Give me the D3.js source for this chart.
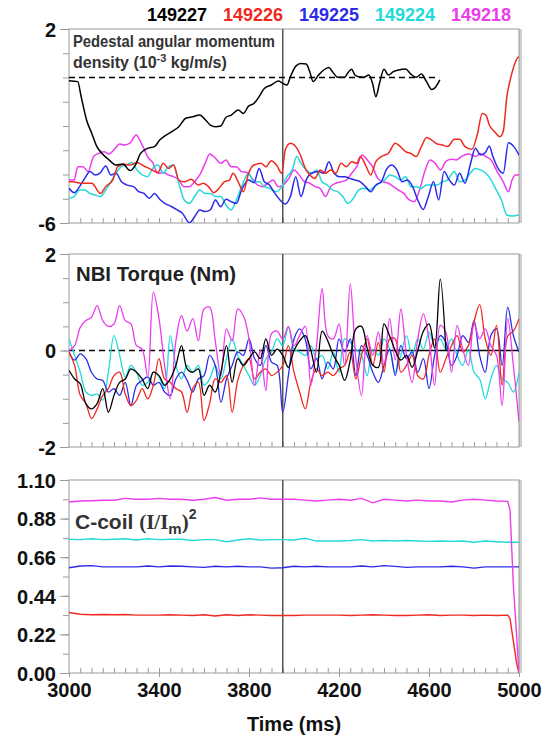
<!DOCTYPE html>
<html><head><meta charset="utf-8">
<script src="https://cdn.jsdelivr.net/npm/d3@7"></script>
<style>
html,body{margin:0;padding:0;background:#fff;}
svg{display:block;}
text{font-family:"Liberation Sans",Arial,Helvetica,sans-serif;font-weight:bold;}
</style></head>
<body>
<svg id="chart" width="548" height="738"></svg>
<script>
// ---------- data ----------
const shots = ["149227", "149226", "149225", "149224", "149218"];
const shotColors = ["#000000", "#ee2a20", "#2c2ce8", "#22dada", "#ec3cec"];

// Pedestal angular momentum density [time ms, value 1e-3 kg/m/s]
const ped149227 = [[3000,-0.13],[3039,-0.17],[3054,-0.79],[3078,-1.75],[3101,-2.30],[3124,-2.85],[3147,-3.13],[3178,-3.40],[3209,-3.61],[3240,-3.57],[3271,-3.84],[3295,-3.61],[3318,-3.13],[3349,-2.92],[3380,-2.85],[3403,-2.58],[3426,-2.41],[3457,-2.23],[3488,-2.03],[3519,-1.68],[3550,-1.62],[3581,-1.55],[3605,-1.73],[3628,-1.96],[3651,-2.03],[3674,-2.0],[3698,-1.64],[3721,-1.55],[3752,-1.34],[3775,-1.48],[3798,-1.18],[3822,-1.07],[3845,-0.79],[3868,-0.45],[3899,-0.31],[3930,-0.14],[3950,-0.24],[3969,-0.31],[3984,0.03],[4008,0.47],[4031,0.58],[4054,0.56],[4070,0.24],[4085,-0.17],[4109,0.10],[4132,0.31],[4155,0.41],[4171,0.24],[4194,0.01],[4225,0.01],[4240,0.20],[4256,0.34],[4271,0.10],[4287,0.03],[4310,0.01],[4333,0.10],[4349,-0.24],[4364,-0.79],[4380,-0.24],[4400,0.34],[4419,0.10],[4442,0.24],[4465,0.31],[4496,0.35],[4519,0.14],[4543,0.01],[4566,0.14],[4589,-0.17],[4612,-0.49],[4628,-0.41],[4648,-0.10]];
const ped149226 = [[3000,-4.30],[3016,-4.30],[3054,-4.36],[3101,-4.36],[3140,-4.78],[3163,-4.50],[3194,-4.23],[3217,-3.68],[3248,-3.58],[3271,-3.61],[3302,-3.51],[3333,-3.65],[3364,-3.79],[3395,-3.92],[3419,-3.54],[3442,-3.75],[3465,-3.61],[3488,-4.23],[3512,-4.30],[3543,-4.20],[3574,-4.43],[3597,-4.36],[3620,-4.50],[3643,-4.75],[3667,-4.57],[3690,-4.30],[3713,-4.23],[3729,-3.95],[3752,-4.30],[3775,-4.71],[3798,-3.95],[3822,-3.61],[3853,-3.54],[3876,-3.68],[3899,-3.43],[3922,-3.61],[3946,-3.95],[3961,-2.99],[3984,-2.71],[4008,-2.85],[4031,-3.26],[4047,-3.68],[4070,-4.02],[4093,-4.16],[4116,-3.81],[4140,-3.95],[4163,-3.81],[4186,-3.95],[4209,-3.54],[4233,-3.68],[4256,-3.47],[4279,-3.54],[4295,-3.26],[4318,-3.61],[4341,-4.02],[4364,-3.47],[4388,-3.26],[4419,-3.13],[4450,-2.71],[4473,-2.85],[4496,-3.06],[4519,-3.13],[4543,-3.26],[4566,-2.85],[4589,-2.47],[4612,-2.58],[4636,-2.74],[4659,-2.78],[4682,-2.85],[4713,-2.55],[4736,-2.55],[4760,-2.85],[4791,-2.96],[4814,-2.37],[4837,-1.48],[4853,-1.55],[4868,-1.96],[4891,-2.23],[4915,-2.44],[4930,-2.23],[4946,-0.79],[4961,-0.10],[4977,0.45],[4992,0.79],[5000,0.85]];
const ped149225 = [[3000,-4.57],[3023,-4.75],[3047,-4.50],[3070,-4.16],[3093,-3.88],[3116,-4.02],[3140,-3.92],[3163,-3.65],[3186,-4.02],[3209,-3.95],[3233,-4.30],[3256,-4.43],[3287,-4.50],[3310,-4.71],[3333,-4.78],[3357,-4.98],[3380,-4.78],[3403,-5.02],[3426,-5.19],[3457,-5.33],[3481,-5.46],[3504,-5.60],[3535,-5.99],[3558,-5.74],[3581,-5.46],[3605,-5.53],[3628,-5.46],[3651,-5.05],[3674,-5.33],[3698,-5.02],[3721,-5.12],[3744,-5.19],[3767,-4.64],[3798,-4.23],[3822,-4.34],[3845,-3.75],[3868,-4.30],[3891,-4.43],[3915,-4.78],[3938,-5.05],[3961,-5.22],[3984,-4.91],[4008,-4.09],[4031,-4.91],[4054,-4.23],[4078,-3.95],[4109,-3.88],[4132,-3.95],[4155,-3.47],[4178,-3.95],[4202,-4.09],[4225,-4.09],[4248,-4.16],[4271,-4.23],[4295,-4.30],[4318,-4.50],[4341,-4.71],[4364,-4.43],[4388,-4.30],[4411,-3.79],[4434,-3.61],[4457,-3.81],[4481,-4.30],[4504,-4.23],[4527,-4.50],[4550,-5.05],[4574,-5.44],[4597,-4.91],[4620,-4.30],[4643,-5.05],[4667,-3.88],[4690,-4.23],[4713,-4.43],[4736,-3.95],[4760,-4.36],[4783,-3.61],[4806,-2.92],[4829,-3.20],[4853,-3.06],[4868,-2.82],[4884,-3.26],[4907,-3.75],[4930,-3.95],[4953,-2.69],[4977,-2.85],[5000,-3.20]];
const ped149224 = [[3000,-4.98],[3023,-4.91],[3047,-4.64],[3070,-4.64],[3093,-4.78],[3116,-4.85],[3140,-4.91],[3163,-4.64],[3186,-4.30],[3209,-3.95],[3233,-3.68],[3256,-3.61],[3279,-3.51],[3302,-3.81],[3326,-4.02],[3349,-4.09],[3372,-3.75],[3395,-3.61],[3419,-3.95],[3442,-3.68],[3465,-3.61],[3488,-4.36],[3512,-5.05],[3535,-5.19],[3558,-4.91],[3581,-4.64],[3605,-4.78],[3628,-4.78],[3651,-4.91],[3674,-4.91],[3698,-5.26],[3721,-5.46],[3744,-5.05],[3767,-4.50],[3798,-3.95],[3822,-4.30],[3845,-4.30],[3868,-4.50],[3891,-4.57],[3922,-4.71],[3946,-4.50],[3969,-4.09],[3992,-3.81],[4012,-3.26],[4031,-3.54],[4054,-3.81],[4078,-3.95],[4101,-3.81],[4124,-4.30],[4147,-4.43],[4171,-4.64],[4194,-4.71],[4217,-4.91],[4240,-5.19],[4264,-4.98],[4287,-4.64],[4310,-4.57],[4333,-4.64],[4357,-4.50],[4380,-4.36],[4403,-4.23],[4426,-4.02],[4450,-4.09],[4473,-4.23],[4496,-4.09],[4519,-4.50],[4543,-4.50],[4566,-4.57],[4589,-4.43],[4612,-4.43],[4636,-4.43],[4659,-4.30],[4682,-4.23],[4713,-3.88],[4736,-4.30],[4760,-4.23],[4783,-3.95],[4806,-3.75],[4829,-3.81],[4853,-3.95],[4876,-4.23],[4899,-4.64],[4922,-5.05],[4946,-5.67],[4969,-5.71],[5000,-5.67]];
const ped149218 = [[3000,-4.23],[3023,-4.23],[3039,-3.68],[3062,-3.68],[3085,-3.88],[3109,-3.26],[3132,-3.13],[3155,-3.06],[3178,-3.15],[3202,-2.96],[3225,-2.74],[3248,-2.78],[3271,-2.71],[3299,-2.37],[3318,-2.65],[3333,-2.92],[3349,-3.26],[3372,-3.51],[3395,-3.95],[3419,-3.92],[3442,-4.02],[3465,-4.09],[3488,-4.23],[3512,-4.50],[3535,-4.50],[3558,-4.30],[3581,-4.02],[3605,-3.54],[3625,-3.15],[3651,-3.33],[3674,-3.54],[3698,-3.40],[3721,-3.68],[3744,-3.68],[3767,-3.88],[3791,-3.92],[3814,-4.16],[3837,-4.43],[3860,-4.50],[3884,-4.36],[3907,-4.23],[3930,-4.50],[3953,-4.43],[3977,-4.16],[4000,-3.81],[4023,-4.02],[4047,-4.30],[4070,-4.36],[4093,-4.50],[4116,-4.57],[4140,-4.91],[4163,-4.50],[4186,-4.36],[4209,-4.30],[4233,-4.23],[4256,-3.95],[4279,-3.68],[4302,-3.20],[4326,-3.40],[4349,-3.68],[4372,-4.16],[4395,-4.30],[4419,-4.36],[4442,-4.50],[4465,-4.64],[4488,-4.78],[4512,-5.05],[4535,-5.12],[4558,-4.64],[4581,-3.88],[4605,-3.40],[4628,-3.54],[4651,-3.81],[4674,-3.47],[4698,-3.37],[4721,-3.40],[4744,-3.26],[4775,-3.15],[4806,-3.26],[4829,-3.13],[4853,-3.26],[4876,-3.40],[4899,-3.81],[4930,-4.30],[4953,-4.71],[4969,-4.23],[4984,-4.02],[5000,-4.02]];
const pedReference = [[3000, 0], [4645, 0]];

// NBI torque (Nm), sampled on torqueTimes
const torqueTimes = [3000,3025,3050,3075,3100,3125,3150,3175,3200,3225,3250,3275,3300,3325,3350,3375,3400,3425,3450,3475,3500,3525,3550,3575,3600,3625,3650,3675,3700,3725,3750,3775,3800,3825,3850,3875,3900,3925,3950,3975,4000,4025,4050,4075,4100,4125,4150,4175,4200,4225,4250,4275,4300,4325,4350,4375,4400,4425,4450,4475,4500,4525,4550,4575,4600,4625,4650,4675,4700,4725,4750,4775,4800,4825,4850,4875,4900,4925,4950,4975,5000];
const tq149227 = [-0.41,-0.59,-0.69,-1.10,-1.21,-1.10,-0.79,-1.28,-0.93,-0.66,-0.59,-0.38,-0.45,-0.59,-0.79,-0.45,-0.52,-0.72,-0.59,-0.31,0.10,-0.38,-0.45,-0.38,-0.93,-0.72,-0.86,-0.45,0.10,-0.66,-0.17,-0.31,-0.17,-0.03,-0.17,0.24,-0.10,0.03,-0.10,-0.35,0.0,0.20,0.31,0.0,-0.45,0.40,0.20,-0.10,-0.30,-0.62,-0.20,0.45,0.50,0.05,-0.30,-0.35,0.55,0.30,0.0,-0.20,-0.10,-0.35,0.0,0.40,0.55,0.05,1.48,0.0];
const tq149226 = [-0.03,-0.31,-0.93,-1.10,-1.41,-1.21,-0.93,-0.79,-0.52,-0.45,-0.90,-1.14,-1.03,-0.79,-1.00,-0.72,-0.17,-0.59,-0.66,-0.79,-0.86,-1.28,-0.79,-0.66,-1.45,-1.10,-0.59,-0.66,-0.52,-1.28,-0.62,-0.31,-0.17,-0.59,-0.45,-0.38,-0.52,-0.45,-0.31,0.10,-0.45,-0.86,-1.21,-0.66,-0.38,-0.52,-0.45,-0.52,-0.38,-0.31,-0.03,-0.59,-0.10,0.24,-0.31,0.17,-0.45,0.24,0.24,-0.45,-0.31,-0.10,-0.52,-0.59,-0.10,0.24,-0.45,-0.17,0.10,0.31,-0.03,0.10,0.59,0.95,0.24,-0.10,0.52,-0.72,0.30,0.40,0.66];
const tq149225 = [-0.03,-0.20,-0.07,-0.17,-0.45,-0.59,-0.62,-0.86,-0.79,-0.93,-0.66,-1.14,-0.72,-0.62,-0.55,-0.72,-0.66,-0.86,-0.93,-0.59,-0.45,-0.62,-0.86,-0.59,-0.52,-0.10,-0.31,-1.07,-0.59,-0.31,-0.03,-0.10,0.24,-0.17,-0.31,0.10,-0.24,-0.31,-1.28,-0.52,0.24,0.45,0.24,-0.38,-0.17,-0.59,-0.24,-0.38,0.24,-0.03,0.24,-0.52,0.10,-0.10,-0.45,-0.66,-0.31,0.03,-0.52,0.10,-0.17,-0.03,-0.45,-0.17,-0.79,-0.10,0.31,0.17,-0.31,-0.10,0.31,0.17,0.62,-0.10,-0.45,0.31,0.45,-0.31,0.90,0.31,-0.03];
const tq149224 = [0.24,-0.10,-0.45,-0.86,-0.93,-0.90,-1.03,-0.45,0.31,-0.10,-0.55,-0.31,-0.45,-0.72,-0.66,-0.45,-0.55,-0.79,0.31,-0.31,-0.59,-0.31,-0.45,-0.31,-0.72,-0.59,-0.31,-0.59,-0.17,0.24,-0.10,-0.31,-0.52,-0.72,-0.52,-0.17,-0.03,0.24,0.10,0.48,0.03,-0.03,-0.10,0.10,-0.17,-0.10,-0.38,-0.03,-0.45,0.24,0.17,0.03,-0.10,-0.52,0.03,-0.10,0.24,0.03,-0.45,-0.10,0.31,-0.10,0.24,0.03,0.38,0.10,0.24,0.03,0.24,-0.10,-0.31,0.03,-0.45,-0.59,-1.00,-0.59,-0.31,-0.59,-0.66,-0.86,-0.45];
const tq149218 = [0.0,0.10,0.48,0.62,0.69,0.93,0.62,0.50,0.55,0.93,0.62,0.55,0.10,0.03,-0.55,1.21,0.66,-0.31,-1.00,0.20,0.72,0.40,0.66,0.20,0.86,0.90,0.20,-0.52,0.45,0.20,0.86,0.72,0.24,-0.72,0.0,-0.83,0.35,0.40,0.24,0.50,0.10,0.31,0.50,-0.72,0.10,1.28,0.31,0.24,0.55,-0.31,1.38,-0.17,-0.93,0.31,-0.10,0.38,-0.31,0.66,-0.20,0.86,-0.10,-0.66,0.24,0.76,0.24,-0.72,0.52,0.38,-0.45,0.52,0.03,-0.31,0.55,0.24,0.45,0.10,-0.10,-1.14,0.66,-0.31,-1.48];

// C-coil (I/Im)^2 [time ms, value]
const coil149226 = [[3000,0.345],[3050,0.335],[3100,0.332],[3150,0.333],[3200,0.332],[3250,0.333],[3300,0.330],[3350,0.330],[3400,0.330],[3450,0.332],[3500,0.330],[3550,0.328],[3600,0.332],[3650,0.325],[3700,0.332],[3750,0.328],[3800,0.332],[3850,0.330],[3900,0.328],[3950,0.328],[4000,0.328],[4050,0.330],[4100,0.330],[4150,0.330],[4200,0.330],[4250,0.328],[4300,0.330],[4350,0.332],[4400,0.330],[4450,0.328],[4500,0.328],[4550,0.330],[4600,0.332],[4650,0.328],[4700,0.330],[4750,0.330],[4800,0.328],[4850,0.330],[4900,0.328],[4950,0.330],[4960,0.310],[4975,0.180],[4990,0.050],[5000,0.0]];
const coil149225 = [[3000,0.600],[3050,0.610],[3100,0.612],[3150,0.605],[3200,0.605],[3250,0.605],[3300,0.605],[3350,0.610],[3400,0.605],[3450,0.610],[3500,0.608],[3550,0.605],[3600,0.602],[3650,0.608],[3700,0.605],[3750,0.608],[3800,0.605],[3850,0.605],[3900,0.598],[3950,0.600],[4000,0.608],[4050,0.605],[4100,0.608],[4150,0.605],[4200,0.605],[4250,0.605],[4300,0.610],[4350,0.605],[4400,0.612],[4450,0.608],[4500,0.602],[4550,0.605],[4600,0.605],[4650,0.605],[4700,0.608],[4750,0.605],[4800,0.598],[4850,0.605],[4900,0.605],[4950,0.605],[5000,0.605]];
const coil149224 = [[3000,0.762],[3050,0.760],[3100,0.765],[3150,0.760],[3200,0.762],[3250,0.765],[3300,0.758],[3350,0.765],[3400,0.760],[3450,0.762],[3500,0.762],[3550,0.755],[3600,0.760],[3650,0.760],[3700,0.748],[3750,0.758],[3800,0.765],[3850,0.758],[3900,0.760],[3950,0.760],[4000,0.758],[4050,0.768],[4100,0.752],[4150,0.752],[4200,0.752],[4250,0.755],[4300,0.760],[4350,0.752],[4400,0.755],[4450,0.752],[4500,0.755],[4550,0.752],[4600,0.750],[4650,0.752],[4700,0.750],[4750,0.752],[4800,0.745],[4850,0.752],[4900,0.748],[4950,0.745],[5000,0.745]];
const coil149218 = [[3000,0.975],[3050,0.980],[3100,0.982],[3150,0.985],[3200,0.985],[3250,0.995],[3300,0.990],[3350,0.990],[3400,0.995],[3450,0.990],[3500,0.990],[3550,0.985],[3600,0.990],[3650,1.000],[3700,0.985],[3750,0.990],[3800,0.990],[3850,0.998],[3900,0.990],[3950,0.990],[4000,0.990],[4050,0.985],[4100,0.980],[4150,0.985],[4200,0.990],[4250,0.985],[4300,0.995],[4350,0.970],[4400,0.990],[4450,0.985],[4500,0.980],[4550,0.985],[4600,0.980],[4650,0.980],[4700,0.975],[4750,0.985],[4800,0.990],[4850,0.985],[4900,0.980],[4950,0.978],[4960,0.930],[4975,0.500],[5000,0.0]];

// axes
const timeTicks = [3000, 3400, 3800, 4200, 4600, 5000];
const pedTickLabels = [2, -6];
const torqueTickLabels = [2, 0, -2];
const coilTickLabels = [1.10, 0.88, 0.66, 0.44, 0.22, 0.00];
const markerTime = 3950;

// ---------- drawing ----------
const svg = d3.select("#chart");
const x = d3.scaleLinear().domain([3000, 5000]).range([69, 519]);
const minorTimes = d3.range(3000, 5001, 50);
const hyphen = f => (d => f(d).replace("\u2212", "-"));

const panels = [
  {top: 29, bottom: 223, domain: [-6, 2], labels: pedTickLabels, minor: d3.range(-6, 2.01, 1), fmt: hyphen(d3.format("d"))},
  {top: 254, bottom: 447, domain: [-2, 2], labels: torqueTickLabels, minor: d3.range(-2, 2.01, 0.5), fmt: hyphen(d3.format("d"))},
  {top: 480, bottom: 673, domain: [0, 1.10], labels: coilTickLabels, minor: d3.range(0, 1.1001, 0.11), fmt: d3.format(".2f")}
];

panels.forEach((p, i) => {
  p.y = d3.scaleLinear().domain(p.domain).range([p.bottom, p.top]);
  const g = svg.append("g");
  p.g = g;
  svg.append("clipPath").attr("id", "clip" + i).append("rect")
    .attr("x", x.range()[0]).attr("y", p.top).attr("width", x.range()[1] - x.range()[0]).attr("height", p.bottom - p.top);
  g.append("rect").attr("x", x.range()[1]).attr("y", p.top).attr("width", 3).attr("height", p.bottom - p.top).attr("fill", "#cfcfcf");
  g.append("rect").attr("x", x.range()[0]).attr("y", p.top).attr("width", x.range()[1] - x.range()[0]).attr("height", p.bottom - p.top)
    .attr("fill", "none").attr("stroke", "#9a9a9a").attr("stroke-width", 1);
  const minorAx = g.append("g").attr("transform", `translate(${x.range()[0]},0)`)
    .call(d3.axisLeft(p.y).tickValues(p.minor).tickSize(6).tickFormat(""));
  minorAx.select(".domain").remove();
  minorAx.selectAll("line").attr("stroke", "#9a9a9a");
  const majorAx = g.append("g").attr("transform", `translate(${x.range()[0]},0)`)
    .call(d3.axisLeft(p.y).tickValues(p.labels).tickSize(9).tickPadding(4).tickFormat(p.fmt));
  majorAx.select(".domain").remove();
  majorAx.selectAll("line").attr("stroke", "#9a9a9a");
  majorAx.selectAll("text").attr("font-size", 20).attr("font-weight", "bold").attr("fill", "#111")
    .attr("font-family", "'Liberation Sans', Arial, sans-serif").attr("dy", "0.36em");
  const bx = g.append("g").attr("transform", `translate(0,${p.bottom})`)
    .call(d3.axisBottom(x).tickValues(minorTimes.slice(1, -1)).tickSizeInner(-5).tickSizeOuter(0).tickFormat(""));
  bx.select(".domain").remove();
  bx.selectAll("line").attr("stroke", "#9a9a9a");
  g.append("line").attr("x1", x(markerTime)).attr("x2", x(markerTime)).attr("y1", p.top).attr("y2", p.bottom)
    .attr("stroke", "#555").attr("stroke-width", 1.5);
});

const tx = svg.append("g").attr("transform", `translate(0,${panels[2].bottom})`)
  .call(d3.axisBottom(x).tickValues(timeTicks).tickSize(4).tickPadding(6).tickFormat(d3.format("d")));
tx.select(".domain").remove();
tx.selectAll("line").attr("stroke", "#9a9a9a");
tx.selectAll("text").attr("font-size", 20).attr("font-weight", "bold").attr("fill", "#111")
  .attr("font-family", "'Liberation Sans', Arial, sans-serif");
svg.append("text").attr("x", (x.range()[0] + x.range()[1]) / 2).attr("y", 731).attr("text-anchor", "middle")
  .attr("font-size", 20).attr("fill", "#111").text("Time (ms)");

svg.append("g").selectAll("text").data(shots).join("text")
  .attr("x", (d, i) => 147 + i * 76).attr("y", 21).attr("font-size", 18).attr("fill", (d, i) => shotColors[i])
  .text(d => d);

const pTop = panels[0], pMid = panels[1];
const lineTop = d3.line().x(d => x(d[0])).y(d => pTop.y(d[1]));
pTop.g.append("path").attr("d", lineTop(pedReference)).attr("fill", "none").attr("stroke", "#000")
  .attr("stroke-width", 1.3).attr("stroke-dasharray", "6,4");
const lineMidRef = d3.line().x(d => x(d[0])).y(d => pMid.y(d[1]));
pMid.g.append("path").attr("d", lineMidRef([[3000, 0], [markerTime, 0]])).attr("fill", "none").attr("stroke", "#000")
  .attr("stroke-width", 1.3).attr("stroke-dasharray", "6,4");
pMid.g.append("path").attr("d", lineMidRef([[markerTime, 0], [5000, 0]])).attr("fill", "none").attr("stroke", "#000")
  .attr("stroke-width", 1.3);

const pedSeries = [ped149218, ped149224, ped149225, ped149226, ped149227];
const pedColors = [shotColors[4], shotColors[3], shotColors[2], shotColors[1], shotColors[0]];
const pedG = svg.append("g").attr("clip-path", "url(#clip0)");
pedSeries.forEach((s, i) => {
  pedG.append("path").attr("d", d3.line().curve(d3.curveMonotoneX).x(d => x(d[0])).y(d => pTop.y(d[1]))(s))
    .attr("fill", "none").attr("stroke", pedColors[i]).attr("stroke-width", 1.5);
});

const tqSeries = [tq149224, tq149225, tq149226, tq149218, tq149227];
const tqColors = [shotColors[3], shotColors[2], shotColors[1], shotColors[4], shotColors[0]];
const tqG = svg.append("g").attr("clip-path", "url(#clip1)");
tqSeries.forEach((s, i) => {
  const pts = s.map((v, k) => [torqueTimes[k], v]);
  tqG.append("path").attr("d", d3.line().curve(d3.curveCatmullRom.alpha(0.5)).x(d => x(d[0])).y(d => pMid.y(d[1]))(pts))
    .attr("fill", "none").attr("stroke", tqColors[i]).attr("stroke-width", 1.3);
});

const pBot = panels[2];
const coilSeries = [coil149226, coil149225, coil149224, coil149218];
const coilColors = [shotColors[1], shotColors[2], shotColors[3], shotColors[4]];
const coilG = svg.append("g").attr("clip-path", "url(#clip2)");
coilSeries.forEach((s, i) => {
  coilG.append("path").attr("d", d3.line().x(d => x(d[0])).y(d => pBot.y(d[1]))(s))
    .attr("fill", "none").attr("stroke", coilColors[i]).attr("stroke-width", 1.4);
});

// panel titles
svg.append("text").attr("x", 73).attr("y", 47).attr("font-size", 16).attr("fill", "#333")
  .attr("textLength", 202).attr("lengthAdjust", "spacingAndGlyphs").text("Pedestal angular momentum");
const t2 = svg.append("text").attr("x", 73).attr("y", 68).attr("font-size", 16).attr("fill", "#333");
t2.append("tspan").text("density (10");
t2.append("tspan").attr("font-size", 11).attr("dy", -6).text("-3");
t2.append("tspan").attr("dy", 6).text(" kg/m/s)");

svg.append("text").attr("x", 76).attr("y", 281).attr("font-size", 21).attr("fill", "#222")
  .attr("textLength", 160).attr("lengthAdjust", "spacingAndGlyphs").text("NBI Torque (Nm)");

const t3 = svg.append("text").attr("x", 75).attr("y", 529).attr("font-size", 21).attr("fill", "#333");
t3.append("tspan").text("C-coil ");
t3.append("tspan").attr("font-family", "'Liberation Serif', 'Times New Roman', serif").text("(I/I");
t3.append("tspan").attr("font-size", 15).attr("dy", 5).text("m");
t3.append("tspan").attr("font-family", "'Liberation Serif', 'Times New Roman', serif").attr("dy", -5).text(")");
t3.append("tspan").attr("font-size", 14).attr("dy", -10).text("2");
</script>
</body></html>
